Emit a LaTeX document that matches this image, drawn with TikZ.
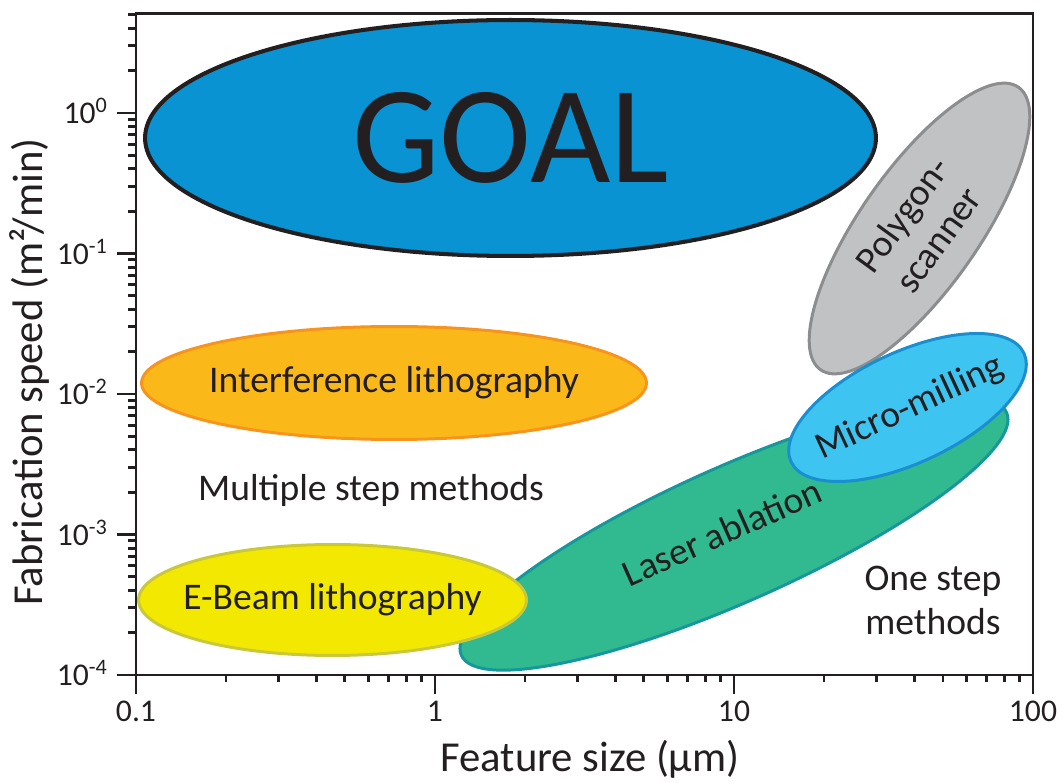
\documentclass[tikz,border=0pt]{standalone}
\usepackage{fontspec}
\setmainfont{Carlito}
\usetikzlibrary{shapes.geometric}

\definecolor{inkdark}{RGB}{35,31,32}
\definecolor{goalfill}{RGB}{9,147,210}
\definecolor{interfill}{RGB}{251,185,25}
\definecolor{interedge}{RGB}{247,148,30}
\definecolor{ebeamfill}{RGB}{243,233,0}
\definecolor{ebeamedge}{RGB}{201,200,58}
\definecolor{laserfill}{RGB}{49,185,143}
\definecolor{laseredge}{RGB}{23,151,155}
\definecolor{millfill}{RGB}{61,196,241}
\definecolor{milledge}{RGB}{26,143,208}
\definecolor{polyfill}{RGB}{193,194,196}
\definecolor{polyedge}{RGB}{140,141,143}

\tikzset{
  region/.style={ellipse, draw, line width=1.7pt, inner sep=0pt},
  lbl/.style={text=inkdark, font=\fontsize{21.4}{25}\selectfont, align=center},
  ticklbl/.style={text=inkdark, font=\fontsize{18}{21}\selectfont},
  axislbl/.style={text=inkdark, font=\fontsize{24.3}{28}\selectfont},
  axisline/.style={inkdark, line width=1.7pt},
}

\begin{document}
\begin{tikzpicture}[x=0.02cm, y=-0.02cm]
\useasboundingbox (0,0) rectangle (1063,783);

% method regions
\node[region, draw=polyedge, fill=polyfill, minimum width=6.9cm, minimum height=2.38cm, rotate=55] (poly) at (919.5,228.5) {};
\node[region, draw=laseredge, fill=laserfill, minimum width=11.94cm, minimum height=2.7cm, rotate=24] (laser) at (734,534) {};
\node[region, draw=ebeamedge, fill=ebeamfill, minimum width=7.76cm, minimum height=2.22cm] (ebeam) at (332.5,600) {};
\node[region, draw=interedge, fill=interfill, minimum width=10.1cm, minimum height=2.26cm] (inter) at (394,383) {};
\node[region, draw=inkdark, fill=goalfill, line width=2.3pt, minimum width=14.62cm, minimum height=4.72cm] (goal) at (510.5,138) {};
\node[region, draw=milledge, fill=millfill, minimum width=5.14cm, minimum height=2.22cm, rotate=25] (mill) at (907.5,407.5) {};

\node[text=inkdark, font=\fontsize{79}{90}\selectfont] (goallbl) at (goal) {GOAL};
\node[lbl] (interlbl) at (inter) {Interference lithography};
\node[lbl] (ebeamlbl) at (ebeam) {E-Beam lithography};
\node[lbl, rotate=24] (laserlbl) at (722,532) {Laser ablation};
\node[lbl, rotate=25] (milllbl) at (910,408) {Micro-milling};
\node[lbl, rotate=54] (polylbl) at (920,227) {Polygon-\\scanner};
\node[lbl] (multilbl) at (371,490) {Multiple step methods};
\node[lbl] (onelbl) at (933,600) {One step\\methods};

% axes
\draw[axisline] (136,675) rectangle (1033,14);
\foreach \d/\t in {0/-4,1/-3,2/-2,3/-1,4/0}{
  \pgfmathsetmacro\yy{675-140.5*\d}
  \draw[axisline] (136,\yy) -- (117,\yy);
  \node[ticklbl, anchor=base east] (ytick\d) at (114,\yy+11) {10\textsuperscript{\t}};
}
\foreach \d in {0,...,3}
  \foreach \k in {2,...,9}{
    \pgfmathsetmacro\yy{675-140.5*(\d+log10(\k))}
    \draw[axisline] (136,\yy) -- (128,\yy);
  }
\foreach \k in {2,...,5}{
  \pgfmathsetmacro\yy{675-140.5*(4+log10(\k))}
  \draw[axisline] (136,\yy) -- (128,\yy);
}
\foreach \d/\t in {0/0.1,1/1,2/10,3/100}{
  \pgfmathsetmacro\xx{136+299*\d}
  \draw[axisline] (\xx,675) -- (\xx,694);
  \node[ticklbl, anchor=base] (xtick\d) at (\xx,722) {\t};
}
\foreach \d in {0,...,2}
  \foreach \k in {2,...,9}{
    \pgfmathsetmacro\xx{136+299*(\d+log10(\k))}
    \draw[axisline] (\xx,675) -- (\xx,682);
  }

\node[axislbl, anchor=base] (xlabel) at (590,772) {Feature size (µm)};
\node[axislbl, anchor=base, rotate=90] (ylabel) at (42,372) {Fabrication speed (m²/min)};
\end{tikzpicture}
\end{document}
